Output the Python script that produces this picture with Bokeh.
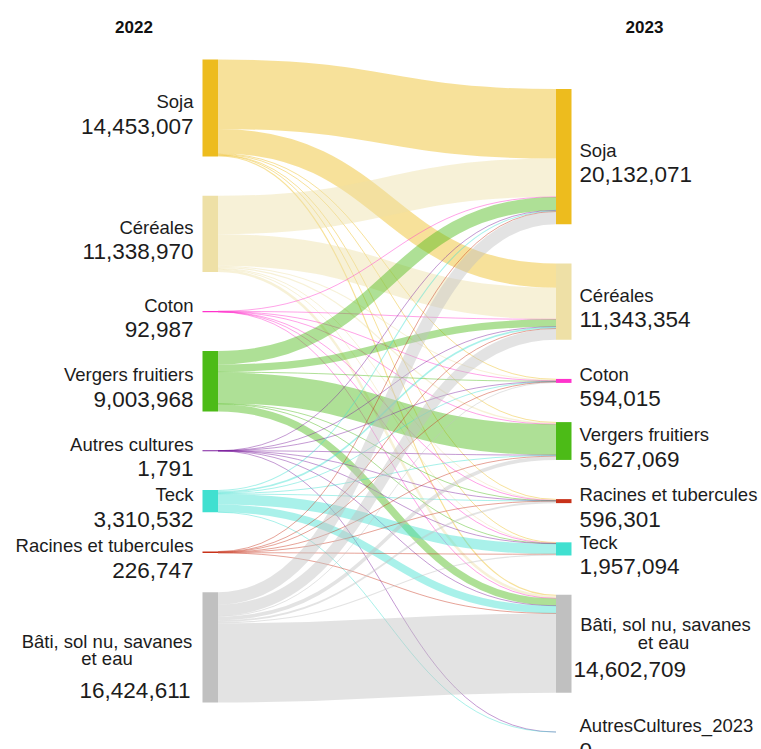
from bokeh.plotting import figure
from bokeh.models import ColumnDataSource, Range1d
from bokeh.core.properties import value
from bokeh.embed import file_html
from bokeh.resources import INLINE

# ---------------- data ----------------
years = ["2022", "2023"]

nodes_2022 = ["Soja", "Céréales", "Coton", "Vergers fruitiers", "Autres cultures",
              "Teck", "Racines et tubercules", "Bâti, sol nu, savanes\net eau"]
values_2022 = [14453007, 11338970, 92987, 9003968, 1791, 3310532, 226747, 16424611]

nodes_2023 = ["Soja", "Céréales", "Coton", "Vergers fruitiers", "Racines et tubercules",
              "Teck", "Bâti, sol nu, savanes\net eau", "AutresCultures_2023"]
values_2023 = [20132071, 11343354, 594015, 5627069, 596301, 1957094, 14602709, 0]

# flows from each 2022 class towards the 2023 classes (same order as nodes_2023); None = no link
from_soja     = [10350000, 3600000, 100000, 100000, 80000, 50000, 173007, None]
from_cereales = [5700000, 4700000, 150000, 200000, 120000, 100000, 368970, None]
from_coton    = [15000, 12000, 40000, 10000, 3000, 5000, 7987, None]
from_vergers  = [2000000, 1100000, 100000, 4600000, 60000, 50000, 1093968, None]
from_autres   = [300, 300, 200, 300, 200, 300, 191, 0]
from_teck     = [150000, 250000, 50000, 150000, 20000, 1550000, 1140532, 0]
from_racines  = [50000, 40000, 20000, 30000, 40000, 30000, 16747, None]
from_bati     = [1866771, 1641054, 133815, 536769, 273101, 171794, 11801307, None]

flows = [from_soja, from_cereales, from_coton, from_vergers,
         from_autres, from_teck, from_racines, from_bati]

# ---------------- style ----------------
palette = {
    "Soja": "#EDBC1E",
    "Céréales": "#EEE0A6",
    "Coton": "#FF33CC",
    "Vergers fruitiers": "#4CBB17",
    "Autres cultures": "#7D1E9E",
    "AutresCultures_2023": "#7D1E9E",
    "Teck": "#40E0D0",
    "Racines et tubercules": "#C8321A",
    "Bâti, sol nu, savanes\net eau": "#C0C0C0",
}
KY = 6.72e-6          # px per unit
GAP = 39.2            # px between nodes
TOPS = [59.0, 88.5]
XN = [(202.0, 217.5), (555.5, 571.0)]
FONT = value("Liberation Sans")
TXT = "#1c1c1c"

W, H = 761, 749
p = figure(width=W, height=H, x_range=Range1d(0, W), y_range=Range1d(H, 0),
           output_backend="svg", toolbar_location=None, min_border=0,
           x_axis_type=None, y_axis_type=None)
p.grid.visible = False
p.outline_line_color = None
p.background_fill_color = "white"


def stack(vals, top):
    out = []
    y = top
    for v in vals:
        h = v * KY
        out.append((y, y + h))
        y += h + GAP
    return out


pos = [stack(values_2022, TOPS[0]), stack(values_2023, TOPS[1])]

# ---------------- links ----------------
src_off = [0.0] * len(nodes_2022)
tgt_off = [0.0] * len(nodes_2023)
L = dict(x0=[], y0=[], x1=[], y1=[], cx0=[], cy0=[], cx1=[], cy1=[], w=[], color=[])
xs, xt = XN[0][1], XN[1][0]
xm = (xs + xt) / 2
for i, row in enumerate(flows):
    for j, v in enumerate(row):
        if v is None:
            continue
        w = v * KY
        ya = pos[0][i][0] + src_off[i] + w / 2
        yb = pos[1][j][0] + tgt_off[j] + w / 2
        src_off[i] += w
        tgt_off[j] += w
        L["x0"].append(xs); L["y0"].append(ya)
        L["x1"].append(xt); L["y1"].append(yb)
        L["cx0"].append(xm); L["cy0"].append(ya)
        L["cx1"].append(xm); L["cy1"].append(yb)
        L["w"].append(max(w, 1.0))
        L["color"].append(palette[nodes_2022[i]])

p.bezier(x0="x0", y0="y0", x1="x1", y1="y1", cx0="cx0", cy0="cy0", cx1="cx1", cy1="cy1",
         line_width="w", line_color="color", line_alpha=0.45, line_cap="butt",
         source=ColumnDataSource(L))

# ---------------- nodes ----------------
for col, (names, vals) in enumerate([(nodes_2022, values_2022), (nodes_2023, values_2023)]):
    R = dict(left=[], right=[], top=[], bottom=[], color=[])
    for k, (nm, v) in enumerate(zip(names, vals)):
        if v <= 0:
            continue
        y0, y1 = pos[col][k]
        if y1 - y0 < 1.2:
            c = (y0 + y1) / 2
            y0, y1 = c - 0.6, c + 0.6
        R["left"].append(XN[col][0]); R["right"].append(XN[col][1])
        R["top"].append(y0); R["bottom"].append(y1)
        R["color"].append(palette[nm])
    p.quad(left="left", right="right", top="top", bottom="bottom", fill_color="color",
           line_color=None, source=ColumnDataSource(R))

# ---------------- labels ----------------
def put(x, y, t, align, size):
    p.text(x=[x], y=[y], text=[t], text_align=align, text_baseline="alphabetic",
           text_font=FONT, text_font_size=size, text_color=TXT)


NAME_SIZE, VAL_SIZE = "18.5px", "22.5px"
for col, (names, vals) in enumerate([(nodes_2022, values_2022), (nodes_2023, values_2023)]):
    for k, (nm, v) in enumerate(zip(names, vals)):
        y0, y1 = pos[col][k]
        yc = (y0 + y1) / 2
        vt = f"{v:,}"
        if "\n" in nm:
            lines = nm.split("\n")
            if col == 0:
                put(106.5, yc - 5.5, lines[0], "center", NAME_SIZE)
                put(106.5, yc + 11.5, lines[1], "center", NAME_SIZE)
                put(190, yc + 43, vt, "right", VAL_SIZE)
            else:
                put(665, yc - 19, lines[0], "center", NAME_SIZE)
                put(663, yc - 1, lines[1], "center", NAME_SIZE)
                put(573, yc + 26, vt, "left", VAL_SIZE)
        else:
            if col == 0:
                put(193, yc - 6.5, nm, "right", NAME_SIZE)
                put(193, yc + 18, vt, "right", VAL_SIZE)
            else:
                put(579, yc - 6.5, nm, "left", NAME_SIZE)
                put(579, yc + 18, vt, "left", VAL_SIZE)

p.text(x=[133.5, 644], y=[26.5, 26.5], text=years, text_align="center",
       text_baseline="alphabetic", text_font=FONT, text_font_size="17px",
       text_font_style="bold", text_color="#111111")

open("out.html", "w").write(file_html(p, INLINE))
